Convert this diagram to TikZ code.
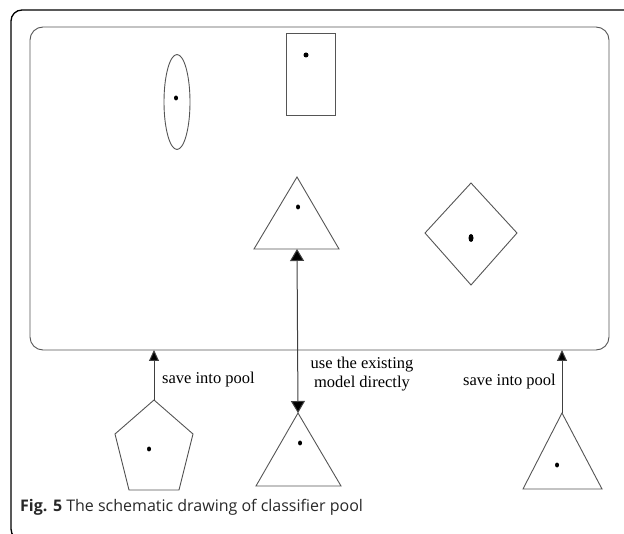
\documentclass[tikz,border=0pt]{standalone}
\usepackage{fontspec}
\setmainfont{Liberation Serif}
\newfontfamily\capfont{Open Sans}
\usetikzlibrary{arrows.meta,shapes.geometric}
\definecolor{linegray}{RGB}{85,85,85}
\definecolor{capgray}{RGB}{40,40,40}
\tikzset{
  shapeline/.style={draw=linegray, line width=0.9pt},
  dotmark/.style={fill=black, inner sep=0pt, minimum width=4pt, minimum height=5pt, ellipse},
  conn/.style={draw=black!75, line width=1pt},
  tip/.style={-{Triangle[length=11pt,width=10pt,fill=black]}},
  lbl/.style={font=\fontsize{16.5}{19}\selectfont, text=black, inner sep=0pt, align=center},
}
\begin{document}
\begin{tikzpicture}[x=1pt,y=-1pt]
\useasboundingbox (0,0) rectangle (624,534);
% outer frame
\draw[black, line width=1.3pt, rounded corners=11pt] (630,10) -- (11,10) -- (11,540) -- (40,540);
% pool box
\draw[shapeline, rounded corners=13pt] (30,27) rectangle (609,350);
% ellipse
\draw[shapeline] (177,102) ellipse[x radius=13, y radius=47.5];
\node[dotmark] (d1) at (176,98) {};
% rectangle
\draw[shapeline] (286,33) rectangle (335,115);
\node[dotmark, minimum width=5pt] (d2) at (306,55) {};
% middle triangle in pool
\coordinate (mtB) at (297,249);
\draw[shapeline] (297,177) -- (339,249) -- (254,249) -- cycle;
\node[dotmark] (d3) at (298,207) {};
% diamond
\draw[shapeline] (471,183) -- (517,233) -- (471,285) -- (425,233) -- cycle;
\node[dotmark, minimum width=5pt, minimum height=8pt] (d4) at (471,238) {};
% bottom middle triangle
\coordinate (btA) at (298,413);
\draw[shapeline] (298,413) -- (341,486) -- (256,486) -- cycle;
\node[dotmark] (d5) at (300,443) {};
% pentagon
\coordinate (pA) at (154,400);
\draw[shapeline] (154,400) -- (193,434) -- (179,490) -- (129,490) -- (115,434) -- cycle;
\node[dotmark] (d6) at (149,449) {};
% right triangle
\coordinate (rtA) at (562,413);
\draw[shapeline] (562,413) -- (602,489) -- (523,489) -- cycle;
\node[dotmark] (d7) at (557,465) {};
% box bottom attach points
\coordinate (poolL) at (154,350);
\coordinate (poolR) at (562,350);
% connectors
\draw[conn, tip] (pA) -- (poolL);
\draw[conn, tip] (rtA) -- (poolR);
\draw[conn, {Triangle[length=12pt,width=14pt,fill=black]}-{Triangle[length=12pt,width=14pt,fill=black]}] (mtB) -- (btA);
% labels
\node[lbl, anchor=west] (l1) at (162,380) {save into pool};
\node[lbl, anchor=east] (l2) at (556,382) {save into pool};
\node[lbl, anchor=north] (l3) at (362,357) {use the existing\\model directly};
% caption
\node[anchor=west, inner sep=0pt, text=capgray, font=\capfont\fontsize{16}{19}\selectfont] (cap) at (20,507) {\textbf{Fig. 5} The schematic drawing of classifier pool};
\end{tikzpicture}
\end{document}
